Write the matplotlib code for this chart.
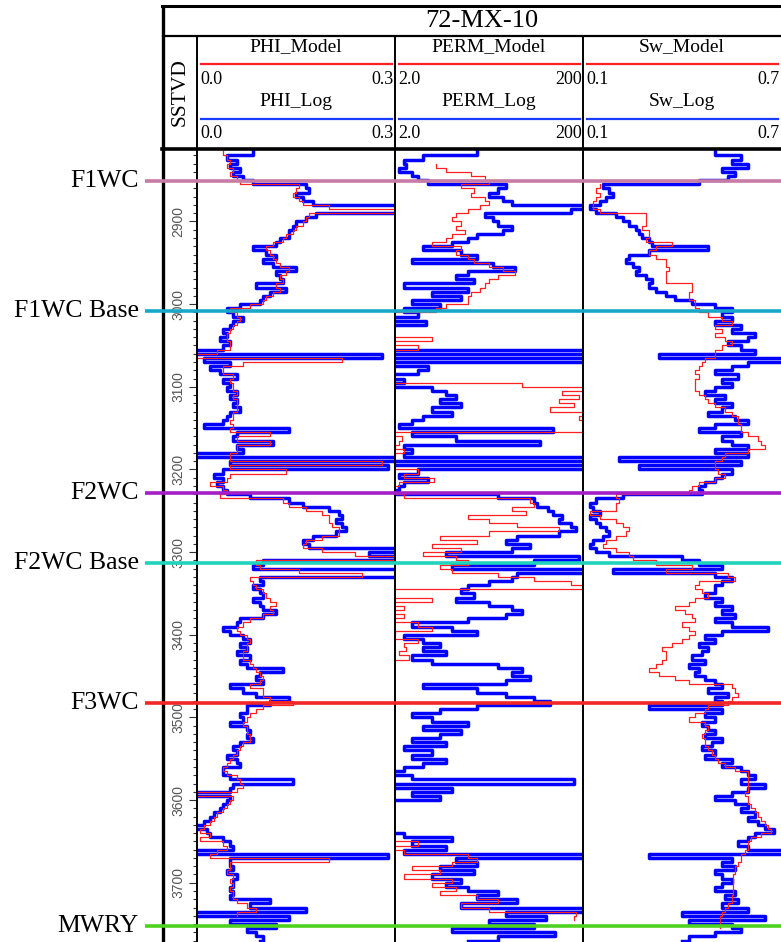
import numpy as np
import matplotlib
matplotlib.use("Agg")
import matplotlib.pyplot as plt
from matplotlib.ticker import MultipleLocator, FixedLocator

# ---------------------------------------------------------------- data
WELL = "72-MX-10"

# sample depths (SSTVD, m), one sample every 5 m
DEPTH = np.arange(2815, 3775, 5)

PHI_LOG = [
    0.085, 0.045, 0.06, 0.05, 0.065, 0.055, 0.07, 0.085, 0.165, 0.17,
    0.15, 0.16, 0.175, 0.32, 0.32, 0.18, 0.165, 0.15, 0.145, 0.14,
    0.14, 0.125, 0.12, 0.085, 0.105, 0.12, 0.1, 0.115, 0.15, 0.12,
    0.125, 0.13, 0.09, 0.135, 0.11, 0.1, 0.095, 0.065, 0.045, 0.055,
    0.07, 0.055, 0.05, 0.04, 0.045, 0.035, 0.05, 0.04, -0.01, 0.28,
    0.01, 0.05, 0.02, 0.035, 0.06, 0.04, 0.05, 0.045, 0.06, 0.05,
    0.06, 0.055, 0.065, 0.05, 0.045, 0.04, 0.01, 0.14, 0.06, 0.055,
    0.115, 0.06, 0.07, -0.01, 0.32, 0.05, 0.29, 0.04, 0.025, 0.04,
    0.03, 0.04, 0.045, 0.08, 0.14, 0.16, 0.2, 0.215, 0.22, 0.21,
    0.22, 0.225, 0.21, 0.175, 0.16, 0.17, 0.32, 0.26, 0.32, 0.1,
    0.085, 0.32, 0.32, 0.095, 0.1, 0.085, 0.095, 0.1, 0.085, 0.095,
    0.1, 0.12, 0.1, 0.065, 0.06, 0.04, 0.05, 0.07, 0.08, 0.065,
    0.075, 0.06, 0.08, 0.065, 0.075, 0.13, 0.095, 0.09, 0.1, 0.05,
    0.07, 0.09, 0.14, 0.11, 0.075, 0.075, 0.065, 0.07, 0.05, 0.075,
    0.08, 0.075, 0.085, 0.065, 0.055, 0.06, 0.045, 0.06, 0.065, 0.04,
    0.04, 0.05, 0.145, 0.055, 0.05, -0.01, 0.05, 0.045, 0.04, 0.035,
    0.025, 0.02, 0.01, -0.01, 0.015, 0.02, 0.04, 0.05, 0.055, -0.01,
    0.29, 0.05, 0.05, 0.055, 0.045, 0.06, 0.055, 0.055, 0.05, 0.055,
    0.05, 0.11, 0.08, 0.165, -0.01, 0.14, 0.05, 0.12, 0.075, 0.09,
    0.1, 0.095,
]

PHI_MODEL = [
    0.04, 0.045, 0.05, 0.045, 0.055, 0.05, 0.06, 0.065, 0.155, 0.15,
    0.145, 0.155, 0.16, 0.2, 0.3, 0.17, 0.165, 0.16, 0.15, 0.145,
    0.135, 0.13, 0.115, 0.105, 0.11, 0.115, 0.12, 0.125, 0.14, 0.135,
    0.125, 0.13, 0.12, 0.125, 0.115, 0.105, 0.1, 0.08, 0.05, 0.06,
    0.065, 0.06, 0.055, 0.05, 0.045, 0.045, 0.05, 0.05, 0.03, -0.01,
    0.22, 0.07, 0.04, 0.04, 0.055, 0.05, 0.055, 0.055, 0.06, 0.055,
    0.06, 0.06, 0.06, 0.055, 0.055, 0.05, 0.055, 0.05, 0.11, 0.06,
    0.11, 0.06, 0.06, 0.05, 0.05, 0.28, 0.05, 0.135, 0.05, 0.045,
    0.02, 0.04, 0.045, 0.035, 0.13, 0.14, 0.165, 0.19, 0.2, 0.2,
    0.205, 0.215, 0.215, 0.19, 0.165, 0.16, 0.19, 0.24, 0.3, 0.09,
    0.095, 0.155, 0.25, 0.08, 0.085, 0.09, 0.1, 0.105, 0.11, 0.12,
    0.11, 0.115, 0.1, 0.08, 0.07, 0.06, 0.065, 0.075, 0.08, 0.075,
    0.075, 0.07, 0.07, 0.08, 0.085, 0.09, 0.095, 0.1, 0.095, 0.08,
    0.1, 0.1, 0.11, 0.145, 0.1, 0.09, 0.08, 0.075, 0.07, 0.075,
    0.075, 0.08, 0.08, 0.07, 0.065, 0.06, 0.055, 0.05, 0.045, 0.04,
    0.045, 0.06, 0.065, 0.07, 0.06, -0.01, 0.055, 0.05, 0.045, 0.04,
    0.03, 0.025, 0.02, 0.01, 0.005, 0.02, 0.005, 0.04, 0.045, 0.03,
    0.02, 0.2, 0.05, 0.05, 0.045, 0.055, 0.05, 0.055, 0.05, 0.055,
    0.055, 0.06, 0.075, 0.09, 0.06, np.nan, np.nan, np.nan, np.nan, np.nan,
    np.nan, np.nan,
]

PERM_LOG = [
    15, 4, 2.5, 2.6, 2.2, 3.0, 3.5, 4.5, 30, 25,
    20, 28, 35, 250, 150, 18, 22, 25, 35, 28,
    15, 12, 8, 4, 10, 15, 3, 22, 38, 12,
    9, 14, 2.5, 12, 5, 10, 3, 6, 2.5, 3.5,
    1.8, 4.3, 1.5, 1.3, 1.2, 1.5, 1.3, 1.5, 250, 1.5,
    250, 1.5, 4.5, 3.5, 1.5, 2.5, 1.3, 5, 7, 9,
    6, 10, 5, 8, 4, 3, 2.2, 95, 3, 9,
    70, 2.5, 3, 2.5, 250, 1.8, 250, 3.5, 2.2, 4.5,
    2.5, 2.2, 2.0, 25, 60, 65, 85, 95, 120, 110,
    150, 170, 110, 40, 30, 55, 35, 7, 180, 60,
    8, 250, 40, 35, 20, 12, 10, 14, 9, 20,
    35, 45, 30, 12, 3, 8, 15, 2.5, 4, 6,
    4, 7, 3, 5, 25, 45, 35, 55, 30, 4,
    15, 30, 60, 90, 15, 6, 3, 5, 12, 4,
    10, 6, 3, 7, 2.5, 5, 3, 7, 4, 2.5,
    1.5, 3, 160, 1.5, 8, 3, 6, 1.5, 1.2, 1.5,
    1.2, 1.5, 1.2, 1.5, 1.3, 2.5, 8, 3, 7, 2.5,
    250, 9, 15, 6, 14, 5, 10, 7, 12, 25,
    15, 40, 10, 250, 30, 80, 20, 60, 8, 100,
    25, 12,
]

PERM_MODEL = [
    np.nan, np.nan, np.nan, 5.5, 7, 13, 18, 20, 10, 14,
    13, 18, 20, 16, 12, 9, 8, 10, 9, 11,
    8, 7, 5, 10, 9, 12, 14, 20, 28, 38,
    25, 20, 18, 16, 13, 12, 12, 7, 5.5, 1.5,
    1.2, 1.0, 1.2, 1.0, 1.3, 5, 1.5, 3.5, 1.2, 1.0,
    1.2, 1.0, 1.0, 1.1, 1.2, 1.0, 45, 220, 120, 180,
    110, 160, 90, 230, 180, 200, 210, 200, 1.8, 2.4,
    2.2, 2.0, 2.5, 2.0, 1.8, 1.5, 1.8, 3.5, 2.5, 5.2,
    2.2, 1.8, 2.0, 2.5, 55, 60, 35, 50, 12, 20,
    40, 110, 20, 6, 15, 5, 10, 4, 9, 12,
    6, 8, 25, 60, 150, 220, 1.8, 1.8, 5, 1.5,
    2.5, 1.8, 2.5, 1.5, 3.5, 5, 2, 1.8, 3.5, 2.5,
    2.6, 2.2, 2.8, 1.5, 1.4, 1.5, 1.3, 1.5, 1.4, 1.5,
    1.3, 1.5, 1.4, 1.5, 1.3, 1.5, 1.4, 1.3, 1.5, 1.4,
    1.5, 1.3, 1.4, 1.5, 1.3, 1.4, 1.5, 1.3, 1.4, 1.5,
    1.3, 1.4, 1.5, 1.3, 1.4, 1.5, 1.3, 1.4, 1.5, 1.3,
    1.4, 1.5, 1.3, 1.4, 1.5, 1.3, 1.4, 3.5, 1.8, 2.5,
    12, 15, 8, 3, 6, 2.5, 8, 5, 9, 6,
    15, 25, 10, 20, 170, 160, np.nan, np.nan, np.nan, np.nan,
    np.nan, np.nan,
]

SW_LOG = [
    0.5, 0.58, 0.55, 0.6, 0.52, 0.56, 0.54, 0.45, 0.16, 0.18,
    0.19, 0.17, 0.15, 0.12, 0.14, 0.2, 0.22, 0.24, 0.26, 0.27,
    0.28, 0.3, 0.31, 0.48, 0.3, 0.24, 0.23, 0.25, 0.27, 0.26,
    0.29, 0.31, 0.3, 0.32, 0.35, 0.38, 0.43, 0.5, 0.55, 0.52,
    0.55, 0.5, 0.58, 0.55, 0.62, 0.6, 0.54, 0.58, 0.62, 0.33,
    0.72, 0.6, 0.55, 0.5, 0.57, 0.52, 0.55, 0.5, 0.47, 0.53,
    0.5, 0.55, 0.52, 0.48, 0.56, 0.6, 0.5, 0.45, 0.58, 0.52,
    0.55, 0.6, 0.5, 0.6, 0.21, 0.58, 0.27, 0.55, 0.52, 0.5,
    0.47, 0.45, 0.46, 0.22, 0.14, 0.12, 0.13, 0.15, 0.12, 0.14,
    0.15, 0.17, 0.18, 0.16, 0.13, 0.12, 0.14, 0.18, 0.4, 0.45,
    0.52, 0.19, 0.5, 0.55, 0.52, 0.5, 0.5, 0.47, 0.52, 0.5,
    0.55, 0.52, 0.56, 0.5, 0.55, 0.66, 0.52, 0.47, 0.5, 0.45,
    0.48, 0.46, 0.43, 0.47, 0.42, 0.45, 0.44, 0.47, 0.5, 0.52,
    0.48, 0.54, 0.5, 0.52, 0.3, 0.52, 0.47, 0.5, 0.46, 0.48,
    0.5, 0.47, 0.52, 0.49, 0.46, 0.5, 0.47, 0.55, 0.52, 0.58,
    0.6, 0.62, 0.58, 0.65, 0.6, 0.55, 0.5, 0.56, 0.6, 0.58,
    0.62, 0.6, 0.63, 0.65, 0.68, 0.62, 0.6, 0.57, 0.6, 0.72,
    0.3, 0.55, 0.52, 0.56, 0.5, 0.52, 0.55, 0.52, 0.5, 0.56,
    0.53, 0.57, 0.52, 0.6, 0.4, 0.65, 0.42, 0.55, 0.58, 0.5,
    0.42, 0.4,
]

SW_MODEL = [
    np.nan, np.nan, np.nan, np.nan, np.nan, np.nan, np.nan, np.nan, 0.15, 0.14,
    0.15, 0.14, 0.13, 0.13, 0.15, 0.29, 0.29, 0.29, 0.28, 0.3,
    0.3, 0.29, 0.37, 0.32, 0.3, 0.32, 0.35, 0.35, 0.36, 0.35,
    0.35, 0.35, 0.43, 0.43, 0.42, 0.42, 0.44, 0.44, 0.45, 0.48,
    0.52, 0.55, 0.5, 0.52, 0.5, 0.53, 0.55, 0.52, 0.5, 0.5,
    0.47, 0.46, 0.45, 0.44, 0.45, 0.44, 0.44, 0.44, 0.45, 0.47,
    0.48, 0.5, 0.53, 0.55, 0.57, 0.57, 0.58, 0.58, 0.6, 0.63,
    0.64, 0.65, 0.6, 0.53, 0.52, 0.5, 0.5, 0.51, 0.53, 0.5,
    0.45, 0.43, 0.42, 0.2, 0.21, 0.2, 0.2, 0.12, 0.15, 0.2,
    0.22, 0.24, 0.23, 0.2, 0.17, 0.16, 0.2, 0.24, 0.25, 0.32,
    0.43, 0.35, 0.54, 0.56, 0.45, 0.44, 0.46, 0.48, 0.44, 0.42,
    0.38, 0.41, 0.43, 0.44, 0.4, 0.42, 0.44, 0.42, 0.4, 0.37,
    0.34, 0.35, 0.35, 0.34, 0.32, 0.3, 0.33, 0.38, 0.42, 0.55,
    0.56, 0.57, 0.55, 0.54, 0.48, 0.47, 0.44, 0.42, 0.47, 0.48,
    0.47, 0.46, 0.47, 0.47, 0.48, 0.49, 0.5, 0.51, 0.53, 0.56,
    0.6, 0.6, 0.6, 0.6, 0.6, 0.59, 0.6, 0.6, 0.61, 0.62,
    0.63, 0.64, 0.65, 0.66, 0.67, 0.64, 0.61, 0.6, 0.6, 0.59,
    0.58, 0.58, 0.57, 0.56, 0.56, 0.555, 0.555, 0.555, 0.555, 0.555,
    0.55, 0.55, 0.54, 0.53, 0.52, 0.515, 0.515, 0.515, np.nan, np.nan,
    np.nan, np.nan,
]

# formation tops
TOP_NAMES = ["F1WC", "F1WC Base", "F2WC", "F2WC Base", "F3WC", "MWRY"]
TOP_DEPTHS = [2851, 3008, 3228, 3313.5, 3483, 3752]
TOP_COLORS = ["#c87ba4", "#19a7c8", "#a41fc6", "#21d2bd", "#f22626", "#4ed21f"]

# track headers
MODEL_NAMES = ["PHI_Model", "PERM_Model", "Sw_Model"]
LOG_NAMES = ["PHI_Log", "PERM_Log", "Sw_Log"]
SCALE_LO = ["0.0", "2.0", "0.1"]
SCALE_HI = ["0.3", "200", "0.7"]
DEPTH_LABELS = [2900, 3000, 3100, 3200, 3300, 3400, 3500, 3600, 3700]

# ---------------------------------------------------------------- layout
W, H = 781, 942
D_TOP, D_BOT = 2813.5, 3771.7
TRACK_X = [(197, 395), (395, 583), (583, 781)]
TRACK_LIM = [(0.0, 0.3), (2.0, 200.0), (0.1, 0.7)]
LOG_BLUE = "#0000ff"
MODEL_RED = "#ff2020"
SERIF = "Liberation Serif"


def frac(x0, y0, x1, y1):
    """pixel box (top-left origin) -> figure fraction rect"""
    return [x0 / W, 1 - y1 / H, (x1 - x0) / W, (y1 - y0) / H]


fig = plt.figure(figsize=(W / 100, H / 100), dpi=100)

# log tracks
curves = [(PHI_LOG, PHI_MODEL), (PERM_LOG, PERM_MODEL), (SW_LOG, SW_MODEL)]
for i, ((x0, x1), lim, (log, model)) in enumerate(zip(TRACK_X, TRACK_LIM, curves)):
    ax = fig.add_axes(frac(x0, 150, x1, H))
    if i == 1:
        ax.set_xscale("log")
    ax.plot(log, DEPTH, color=LOG_BLUE, lw=2.5, drawstyle="steps-pre", zorder=2)
    ax.plot(model, DEPTH, color=MODEL_RED, lw=0.9, drawstyle="steps-pre", zorder=3)
    ax.set_xlim(*lim)
    ax.set_ylim(D_BOT, D_TOP)
    ax.axis("off")

# depth track
ax_d = fig.add_axes(frac(163, 150, 197, H))
ax_d.set_ylim(D_BOT, D_TOP)
ax_d.set_xlim(0, 1)
for s in ax_d.spines.values():
    s.set_visible(False)
ax_d.set_xticks([])
ax_d.yaxis.tick_right()
ax_d.yaxis.set_major_locator(FixedLocator(DEPTH_LABELS))
ax_d.yaxis.set_minor_locator(MultipleLocator(10))
ax_d.tick_params(axis="y", which="both", direction="in", labelright=False,
                 color="#333333", width=0.8)
ax_d.tick_params(axis="y", which="major", length=5.5)
ax_d.tick_params(axis="y", which="minor", length=3)
for d in DEPTH_LABELS:
    ax_d.text(0.45, d, str(d), rotation=90, ha="center", va="center",
              fontsize=10, family="Liberation Sans", color="#555555",
              transform=ax_d.get_yaxis_transform())

# header and frame, drawn in pixel coordinates
ov = fig.add_axes([0, 0, 1, 1], zorder=3)
ov.set_xlim(0, W)
ov.set_ylim(H, 0)
ov.axis("off")
ov.patch.set_alpha(0)

ov.plot([163, 163], [5, H], color="black", lw=2.4, solid_capstyle="butt")
ov.plot([162, W], [6, 6], color="black", lw=2.2)
ov.plot([162, W], [148.5, 148.5], color="black", lw=2.6)
ov.plot([163, W], [36, 36], color="black", lw=1.6)
for x in (197, 395, 583):
    ov.plot([x, x], [36, H], color="black", lw=1.4, solid_capstyle="butt")

ov.text(482, 21, WELL, ha="center", va="center", fontsize=19, family=SERIF)
ov.text(180, 92, "SSTVD", rotation=90, ha="center", va="center",
        fontsize=15.5, family=SERIF)

for (x0, x1), m_name, l_name, lo, hi in zip(TRACK_X, MODEL_NAMES, LOG_NAMES,
                                           SCALE_LO, SCALE_HI):
    cx = (x0 + x1) / 2
    for y, name, col in ((47, m_name, MODEL_RED), (102, l_name, "#1a3cff")):
        ov.text(cx, y, name, ha="center", va="center", fontsize=14, family=SERIF)
        ov.plot([x0 + 4, x1 - 3], [y + 17, y + 17], color=col, lw=1.6)
        ov.text(x0 + 3, y + 32, lo, ha="left", va="center", fontsize=13, family=SERIF)
        ov.text(x1 - 1, y + 32, hi, ha="right", va="center", fontsize=13, family=SERIF)

# formation tops across all tracks
ax_t = fig.add_axes(frac(0, 150, W, H), zorder=4)
ax_t.set_xlim(0, W)
ax_t.set_ylim(D_BOT, D_TOP)
ax_t.axis("off")
ax_t.patch.set_alpha(0)
ax_t.hlines(TOP_DEPTHS, 145, W, colors=TOP_COLORS, lw=2.6)
for name, d in zip(TOP_NAMES, TOP_DEPTHS):
    ax_t.text(139, d, name, ha="right", va="center", fontsize=18.5, family=SERIF)

fig.savefig("out.png", dpi=100)
